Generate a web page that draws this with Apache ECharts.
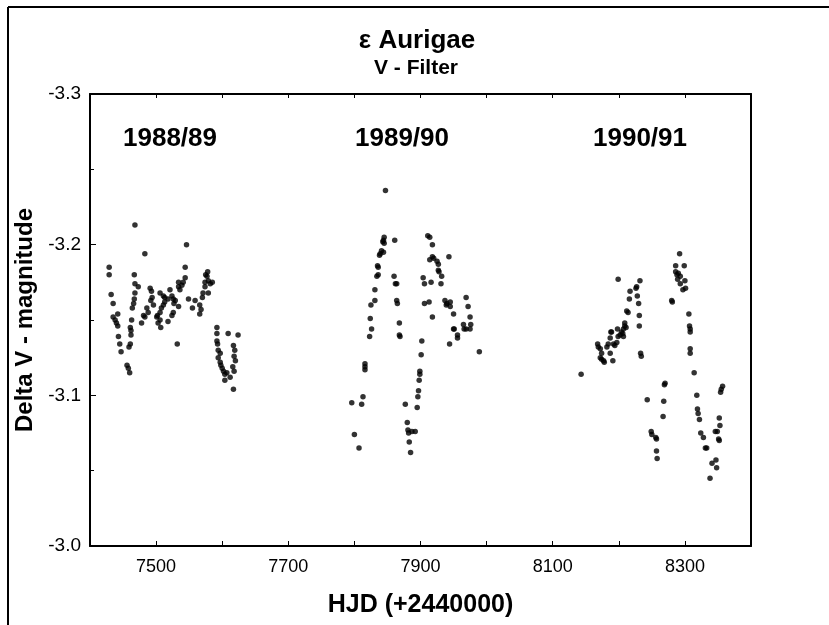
<!DOCTYPE html>
<html><head><meta charset="utf-8">
<script src="https://cdn.jsdelivr.net/npm/echarts@6/dist/echarts.min.js"></script>
<style>html,body{margin:0;padding:0;background:#fff}#c{width:829px;height:625px}</style>
</head><body><div id="c"></div>
<script>
// HJD (+2440000), Delta V magnitude
const season1 = [
[7429,-3.185],[7429,-3.180],[7432,-3.167],[7435,-3.161],[7435,-3.152],[7438,-3.150],[7440,-3.148],[7442,-3.146],
[7442,-3.154],[7443,-3.139],[7445,-3.134],[7447,-3.129],[7456,-3.120],[7458,-3.118],[7460,-3.115],[7459,-3.132],
[7461,-3.134],[7462,-3.140],[7462,-3.143],[7461,-3.145],[7463,-3.150],[7464,-3.158],[7466,-3.161],[7467,-3.164],
[7468,-3.168],[7467,-3.180],[7468,-3.213],[7468,-3.174],[7473,-3.172],[7478,-3.148],[7481,-3.153],[7483,-3.152],
[7486,-3.158],[7488,-3.155],[7483,-3.194],[7491,-3.171],[7493,-3.169],[7494,-3.165],[7492,-3.163],[7496,-3.160],
[7502,-3.153],[7501,-3.152],[7506,-3.150],[7503,-3.148],[7507,-3.145],[7506,-3.168],[7511,-3.166],[7513,-3.165],
[7518,-3.164],[7513,-3.162],[7511,-3.160],[7508,-3.158],[7506,-3.155],[7518,-3.149],[7521,-3.170],[7524,-3.166],
[7526,-3.164],[7529,-3.163],[7527,-3.161],[7526,-3.155],[7524,-3.153],[7534,-3.159],[7534,-3.172],[7536,-3.170],
[7539,-3.173],[7534,-3.175],[7544,-3.178],[7541,-3.175],[7544,-3.185],[7546,-3.200],[7532,-3.134],[7549,-3.164],
[7555,-3.158],[7559,-3.163],[7566,-3.160],[7568,-3.157],[7566,-3.154],[7570,-3.165],[7571,-3.168],[7579,-3.168],
[7574,-3.172],[7574,-3.175],[7577,-3.179],[7579,-3.176],[7582,-3.174],[7585,-3.175],[7578,-3.182],[7575,-3.180],
[7592,-3.145],[7592,-3.141],[7592,-3.136],[7593,-3.134],[7594,-3.130],[7597,-3.128],[7594,-3.125],[7597,-3.122],
[7598,-3.120],[7600,-3.118],[7602,-3.116],[7604,-3.114],[7604,-3.110],[7607,-3.115],[7609,-3.141],[7617,-3.133],
[7619,-3.130],[7618,-3.126],[7620,-3.123],[7616,-3.119],[7618,-3.116],[7624,-3.140],[7617,-3.104],[7612,-3.112]
];
const season2 = [
[7796,-3.095],[7800,-3.074],[7807,-3.065],[7811,-3.094],[7813,-3.099],[7816,-3.121],[7816,-3.119],[7816,-3.117],
[7823,-3.139],[7824,-3.151],[7825,-3.160],[7826,-3.144],[7831,-3.163],[7831,-3.170],[7834,-3.179],[7836,-3.180],
[7835,-3.186],[7836,-3.185],[7838,-3.193],[7839,-3.194],[7841,-3.196],[7844,-3.195],[7843,-3.202],[7844,-3.203],
[7845,-3.205],[7845,-3.201],[7847,-3.236],[7861,-3.203],[7860,-3.179],[7862,-3.174],[7864,-3.174],[7864,-3.163],
[7865,-3.161],[7868,-3.148],[7868,-3.140],[7869,-3.139],[7877,-3.094],[7880,-3.082],[7881,-3.077],[7883,-3.069],
[7882,-3.075],[7885,-3.062],[7887,-3.076],[7892,-3.076],[7895,-3.092],[7896,-3.099],[7897,-3.103],[7898,-3.110],
[7899,-3.116],[7899,-3.114],[7901,-3.127],[7902,-3.136],[7906,-3.161],[7906,-3.174],[7904,-3.178],[7911,-3.206],
[7914,-3.205],[7918,-3.200],[7914,-3.190],[7918,-3.192],[7920,-3.191],[7925,-3.189],[7927,-3.187],[7927,-3.183],
[7928,-3.182],[7932,-3.179],[7931,-3.174],[7916,-3.175],[7913,-3.162],[7918,-3.152],[7943,-3.192],[7937,-3.163],
[7940,-3.161],[7939,-3.160],[7945,-3.162],[7945,-3.159],[7950,-3.154],[7950,-3.144],[7951,-3.144],[7956,-3.140],
[7956,-3.138],[7944,-3.134],[7969,-3.165],[7972,-3.159],[7975,-3.152],[7976,-3.147],[7965,-3.147],[7966,-3.144],
[7969,-3.144],[7975,-3.144],[7989,-3.129]
];
const season3 = [
[8143,-3.114],[8168,-3.134],[8169,-3.132],[8172,-3.131],[8174,-3.128],[8172,-3.125],[8174,-3.124],[8177,-3.123],
[8178,-3.122],[8182,-3.132],[8184,-3.134],[8187,-3.138],[8189,-3.142],[8192,-3.134],[8194,-3.133],[8187,-3.128],
[8191,-3.123],[8197,-3.135],[8199,-3.139],[8202,-3.140],[8204,-3.142],[8207,-3.144],[8209,-3.146],[8207,-3.139],
[8206,-3.141],[8209,-3.148],[8211,-3.145],[8198,-3.144],[8188,-3.142],[8199,-3.177],[8212,-3.156],[8214,-3.155],
[8216,-3.164],[8217,-3.169],[8227,-3.172],[8226,-3.171],[8232,-3.176],[8228,-3.166],[8230,-3.161],[8231,-3.153],
[8231,-3.146],[8233,-3.128],[8234,-3.126],[8243,-3.097],[8249,-3.076],[8250,-3.074],[8256,-3.072],[8257,-3.071],
[8257,-3.063],[8258,-3.058],[8267,-3.086],[8268,-3.096],[8270,-3.108],[8269,-3.107],[8280,-3.163],[8281,-3.162],
[8286,-3.186],[8286,-3.182],[8288,-3.180],[8290,-3.181],[8292,-3.194],[8293,-3.179],[8289,-3.177],[8293,-3.174],
[8297,-3.170],[8299,-3.186],[8301,-3.171],[8300,-3.176],[8306,-3.154],[8307,-3.146],[8308,-3.144],[8308,-3.142],
[8308,-3.131],[8308,-3.128],[8314,-3.115],[8318,-3.100],[8319,-3.091],[8320,-3.088],[8322,-3.084],[8324,-3.075],
[8328,-3.072],[8331,-3.065],[8333,-3.065],[8338,-3.045],[8341,-3.055],[8347,-3.057],[8348,-3.052],[8346,-3.076],
[8349,-3.076],[8351,-3.071],[8352,-3.070],[8352,-3.085],[8353,-3.080],[8354,-3.102],[8355,-3.104],[8357,-3.106]
];
const xTickLabels = [7500, 7700, 7900, 8100, 8300];
const yTickLabels = ['-3.3', '-3.2', '-3.1', '-3.0'];
const seasonNames = ['1988/89', '1989/90', '1990/91'];
const titleText = 'ε Aurigae';
const subtitleText = 'V - Filter';

const FONT = '"Liberation Sans", Arial, Helvetica, sans-serif';
const chart = echarts.init(document.getElementById('c'));

const dotSeries = (d) => ({
  type: 'scatter', data: d, symbol: 'circle', symbolSize: 5.5,
  itemStyle: { color: '#000' }, xAxisIndex: 0, yAxisIndex: 0, silent: true
});

const seasonLabelPos = [[170, 139], [402, 139], [640, 139]];

chart.setOption({
  animation: false,
  backgroundColor: '#fff',
  textStyle: { fontFamily: FONT, color: '#000' },
  grid: { left: 90, right: 78, top: 94, bottom: 79 },
  xAxis: [{
    type: 'value', min: 7400, max: 8400, interval: 100, position: 'bottom',
    axisLine: { lineStyle: { color: '#000', width: 2 } },
    axisTick: { inside: true, length: 5, lineStyle: { color: '#000', width: 1 } },
    axisLabel: { color: '#000', fontSize: 18, margin: 12, fontFamily: FONT,
      formatter: v => xTickLabels.indexOf(Math.round(v)) >= 0 ? String(Math.round(v)) : '' },
    splitLine: { show: false },
    name: 'HJD (+2440000)', nameLocation: 'middle', nameGap: 47,
    nameTextStyle: { fontSize: 25, fontWeight: 'bold', color: '#000', fontFamily: FONT }
  }, {
    type: 'value', min: 7400, max: 8400, interval: 100, position: 'top',
    axisLine: { lineStyle: { color: '#000', width: 2 } },
    axisTick: { inside: true, length: 4, lineStyle: { color: '#000' } },
    axisLabel: { show: false }, splitLine: { show: false }
  }],
  yAxis: [{
    type: 'value', min: -3.3, max: -3.0, interval: 0.1, inverse: true, position: 'left',
    axisLine: { show: true, lineStyle: { color: '#000', width: 2 } },
    axisTick: { show: true, inside: true, length: 6, lineStyle: { color: '#000' } },
    minorTick: { show: true, splitNumber: 2, length: 4, lineStyle: { color: '#000' } },
    axisLabel: { color: '#000', fontSize: 19, margin: 9, fontFamily: FONT,
      formatter: v => { const i = Math.round((v + 3.3) / 0.1); return yTickLabels[i] || ''; } },
    splitLine: { show: false },
    name: 'Delta V - magnitude', nameLocation: 'middle', nameGap: 47, nameRotate: 90,
    nameTextStyle: { fontSize: 24, fontWeight: 'bold', color: '#000', fontFamily: FONT }
  }, {
    type: 'value', min: -3.3, max: -3.0, interval: 0.1, inverse: true, position: 'right',
    axisLine: { show: true, lineStyle: { color: '#000', width: 2 } },
    axisTick: { show: false }, axisLabel: { show: false }, splitLine: { show: false }
  }],
  series: [dotSeries(season1), dotSeries(season2), dotSeries(season3)],
  graphic: [
    { type: 'line', shape: { x1: 8, y1: 7, x2: 829, y2: 7 }, style: { stroke: '#000', lineWidth: 2 } },
    { type: 'line', shape: { x1: 8, y1: 7, x2: 8, y2: 625 }, style: { stroke: '#000', lineWidth: 2 } },
    { type: 'text', x: 417, y: 41, style: { text: titleText, fill: '#000', font: 'bold 26px ' + FONT, textAlign: 'center', textVerticalAlign: 'middle' } },
    { type: 'text', x: 416, y: 68, style: { text: subtitleText, fill: '#000', font: 'bold 21px ' + FONT, textAlign: 'center', textVerticalAlign: 'middle' } }
  ].concat(seasonNames.map((s, i) => ({
    type: 'text', x: seasonLabelPos[i][0], y: seasonLabelPos[i][1],
    style: { text: s, fill: '#000', font: 'bold 26px ' + FONT, textAlign: 'center', textVerticalAlign: 'middle' }
  })))
});
</script></body></html>
